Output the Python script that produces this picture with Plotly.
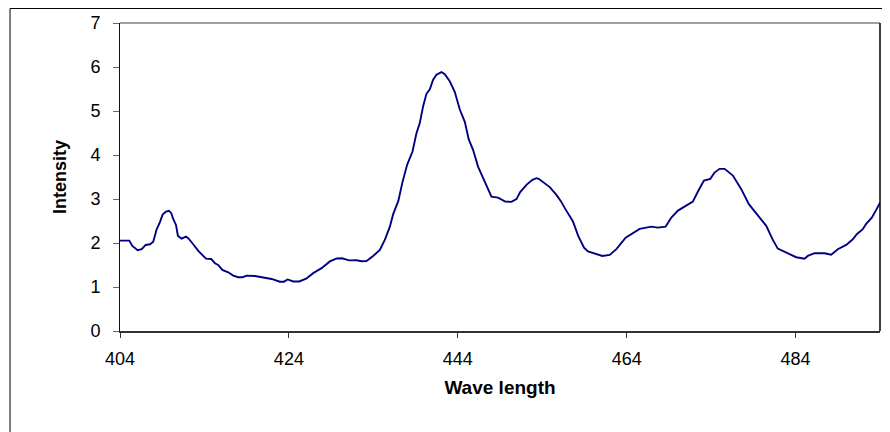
import plotly.graph_objects as go

wavelength = [404.00, 405.10, 405.46, 406.09, 406.57, 407.04, 407.55, 407.94, 408.34, 408.73,
              409.05, 409.44, 409.80, 410.07, 410.31, 410.63, 410.86, 411.30, 411.81, 412.08,
              412.67, 413.27, 414.18, 414.80, 415.24, 415.63, 416.11, 416.82, 417.41, 418.00,
              418.52, 418.99, 419.98, 420.96, 421.95, 422.93, 423.41, 423.85, 424.51, 425.22,
              426.05, 426.88, 427.87, 428.85, 429.68, 430.27, 431.14, 432.01, 432.60, 433.19,
              433.98, 434.77, 435.36, 435.95, 436.34, 436.96, 437.43, 438.00, 438.64, 439.11,
              439.50, 439.89, 440.29, 440.69, 441.08, 441.48, 442.07, 442.46, 443.05, 443.64,
              444.24, 444.83, 445.30, 445.81, 446.40, 447.19, 447.99, 448.77, 449.62, 450.35,
              450.95, 451.37, 452.13, 452.84, 453.31, 453.58, 454.89, 455.68, 456.19, 456.66,
              457.64, 458.26, 458.95, 459.42, 460.01, 461.12, 461.99, 462.78, 463.88, 465.54,
              466.92, 467.70, 468.61, 469.29, 470.07, 471.06, 471.84, 472.44, 473.15, 473.90,
              474.41, 475.00, 475.60, 476.58, 477.57, 478.47, 479.54, 480.53, 481.31, 481.90,
              483.29, 484.08, 485.06, 485.45, 486.25, 487.43, 488.22, 489.00, 490.00, 490.78,
              491.25, 491.96, 492.36, 493.03, 493.55, 494.02]

intensity = [2.054, 2.054, 1.934, 1.836, 1.859, 1.956, 1.972, 2.031, 2.313, 2.473,
             2.646, 2.714, 2.730, 2.677, 2.541, 2.411, 2.161, 2.100, 2.145, 2.109,
             1.972, 1.820, 1.645, 1.638, 1.540, 1.501, 1.388, 1.335, 1.258, 1.222,
             1.222, 1.258, 1.251, 1.222, 1.183, 1.121, 1.121, 1.172, 1.126, 1.126,
             1.190, 1.315, 1.429, 1.581, 1.649, 1.654, 1.604, 1.608, 1.586, 1.592,
             1.706, 1.843, 2.070, 2.366, 2.650, 2.957, 3.367, 3.776, 4.079, 4.497,
             4.725, 5.102, 5.391, 5.494, 5.710, 5.824, 5.885, 5.835, 5.676, 5.437,
             5.034, 4.754, 4.356, 4.117, 3.737, 3.396, 3.055, 3.032, 2.941, 2.935,
             2.998, 3.151, 3.321, 3.435, 3.474, 3.458, 3.271, 3.094, 2.957, 2.798,
             2.491, 2.161, 1.895, 1.808, 1.768, 1.706, 1.729, 1.859, 2.122, 2.320,
             2.373, 2.350, 2.373, 2.577, 2.737, 2.844, 2.941, 3.169, 3.419, 3.458,
             3.601, 3.685, 3.685, 3.533, 3.223, 2.882, 2.623, 2.389, 2.070, 1.872,
             1.745, 1.677, 1.645, 1.706, 1.768, 1.768, 1.736, 1.859, 1.956, 2.086,
             2.200, 2.313, 2.434, 2.577, 2.753, 2.923]

x_ticks = [404, 424, 444, 464, 484]
y_ticks = [0, 1, 2, 3, 4, 5, 6, 7]

FONT = "Liberation Sans, Arial, sans-serif"

fig = go.Figure()
fig.add_trace(go.Scatter(
    x=wavelength, y=intensity, mode="lines",
    line=dict(color="#000080", width=1.9),
    showlegend=False, hoverinfo="skip",
))

fig.update_layout(
    width=882, height=424,
    margin=dict(l=112, r=10, t=15, b=101, autoexpand=False),
    paper_bgcolor="white", plot_bgcolor="white",
    font=dict(family=FONT, color="black"),
    xaxis=dict(
        range=[404, 494], tickvals=x_ticks, ticktext=[str(v) for v in x_ticks],
        showgrid=False, zeroline=False,
        showline=True, linecolor="#333333", linewidth=2,
        ticks="outside", ticklen=5, tickcolor="#333333", tickwidth=1,
        tickfont=dict(size=18, family=FONT),
        ticklabelstandoff=5,
        title=dict(text="<b>Wave length</b>", font=dict(size=19, family=FONT), standoff=13),
    ),
    yaxis=dict(
        range=[0, 7], tickvals=y_ticks,
        showgrid=False, zeroline=False,
        showline=True, linecolor="#111111", linewidth=1,
        ticks="outside", ticklen=6, tickcolor="#666666", tickwidth=1,
        tickfont=dict(size=18, family=FONT),
        ticklabelstandoff=9,
        title=dict(text="<b>Intensity</b>", font=dict(size=18, family=FONT), standoff=19),
    ),
    shapes=[
        dict(type="line", xref="paper", yref="paper", x0=0, x1=1, y0=1, y1=1,
             line=dict(color="#808080", width=1.5)),
        dict(type="line", xref="paper", yref="paper", x0=1, x1=1, y0=0, y1=1,
             line=dict(color="black", width=1.5)),
        dict(type="rect", xref="paper", yref="paper", x0=-0.1447, x1=1.2, y0=-0.5, y1=1.0471,
             line=dict(color="black", width=1)),
    ],
)

fig.write_html("out.html")
